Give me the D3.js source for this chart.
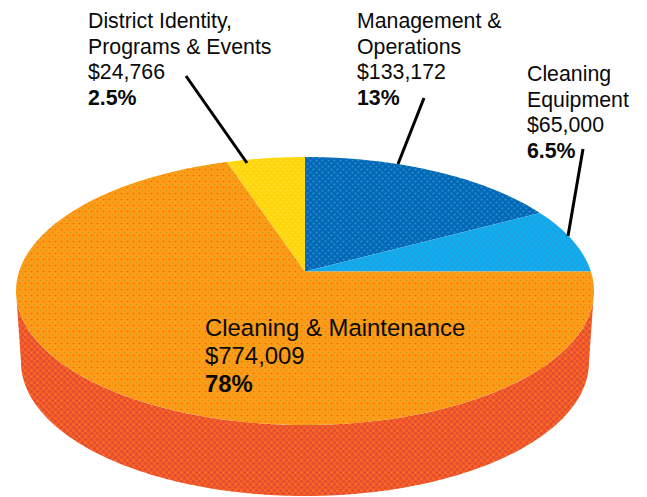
<!DOCTYPE html>
<html><head><meta charset="utf-8">
<script src="https://cdn.jsdelivr.net/npm/d3@7/dist/d3.min.js"></script>
<style>html,body{margin:0;background:#fff}svg{display:block}text{font-family:"Liberation Sans",Arial,sans-serif;fill:#0a0a0a}</style>
</head><body><div id="c"></div><script>
const categories=["Management & Operations","Cleaning Equipment","Cleaning & Maintenance","District Identity, Programs & Events"];
const shares=[13,6.5,78,2.5];
const amounts=["$133,172","$65,000","$774,009","$24,766"];
const percentLabels=["13%","6.5%","78%","2.5%"];
const labelLines=[["Management &","Operations"],["Cleaning","Equipment"],["Cleaning & Maintenance"],["District Identity,","Programs & Events"]];
const fills=["#0368b8","#10adef","#ff9b12","#ffd60a"];
const dots=["#2a8cc4","#2f96d4","#e0762c","#ffe23a"];

const W=647,H=497,svg=d3.select("#c").append("svg").attr("width",W).attr("height",H);
const cx=305,cy=291,rx=289,ry=134,apexX=305,apexY=271.5,depth=71,lowerRx=284;

// cumulative share -> on-screen angle (the source drawing is not proportional)
let cum=[0];shares.forEach(v=>cum.push(cum[cum.length-1]+v));
const angle=d3.scaleLinear().domain(cum).range([0,76,90,324.5,360].map(d=>d*Math.PI/180));

function rim(a){ // ray from the off-centre apex to the ellipse
  const dx=Math.sin(a),dy=-Math.cos(a),ox=apexX-cx,oy=apexY-cy;
  const A=dx*dx/(rx*rx)+dy*dy/(ry*ry),B=2*(ox*dx/(rx*rx)+oy*dy/(ry*ry)),C=ox*ox/(rx*rx)+oy*oy/(ry*ry)-1;
  const t=(-B+Math.sqrt(B*B-4*A*C))/(2*A);
  return [apexX+t*dx,apexY+t*dy];
}
const line=d3.line();

const defs=svg.append("defs");
defs.append("filter").attr("id","soft").attr("x","-5%").attr("y","-5%").attr("width","110%").attr("height","110%")
  .append("feGaussianBlur").attr("stdDeviation",0.45);
function pat(id,base,size,marks){
  const p=defs.append("pattern").attr("id",id).attr("patternUnits","userSpaceOnUse").attr("width",size).attr("height",size);
  p.append("rect").attr("width",size).attr("height",size).attr("fill",base);
  marks.forEach(m=>p.append("circle").attr("cx",m[0]).attr("cy",m[1]).attr("r",m[2]).attr("fill",m[3]));
}
fills.forEach((f,i)=>{
  pat("p"+i,f,6,i==2?[[1.5,1.5,.8,"#d86a2c"],[4.5,4.5,.8,"#bda02c"]]
    :[[1.5,1.5,1.1,dots[i]],[4.5,4.5,1.1,dots[i]]]);
});
pat("pw","#f65e26",6,[[1.5,1.5,1.2,"#d4483a"],[4.5,4.5,1.2,"#dc4638"],[1.5,4.5,.8,"#f48028"]]);

const pieG=svg.append("g").attr("filter","url(#soft)");

// side wall
const wall=[];
d3.range(0,181).forEach(d=>{const t=d*Math.PI/180;wall.push([cx+rx*Math.cos(t),cy+ry*Math.sin(t)]);});
d3.range(180,-1,-1).forEach(d=>{const t=d*Math.PI/180;wall.push([cx+lowerRx*Math.cos(t),cy+depth+ry*Math.sin(t)]);});
pieG.append("path").attr("d",line(wall)+"Z").attr("fill","url(#pw)");

// slices
const pie=d3.pie().sort(null).value(d=>d).startAngle(0).endAngle(2*Math.PI)(shares);
pieG.selectAll("path.slice").data(pie).join("path").attr("class","slice")
  .attr("fill",(d,i)=>`url(#p${i})`)
  .attr("d",(d,i)=>{
    const a0=angle(cum[i]),a1=angle(cum[i+1]),n=Math.ceil((a1-a0)*60);
    const pts=[[apexX,apexY]];
    d3.range(n+1).forEach(k=>pts.push(rim(a0+(a1-a0)*k/n)));
    return line(pts)+"Z";
  });

// leader lines
const leaders=[[[424,98],[398,164]],[[583,149],[568,236]],null,[[186,76],[247,163]]];
leaders.forEach(l=>{if(l)svg.append("path").attr("d",line(l)).attr("stroke","#000").attr("stroke-width",3).attr("fill","none");});

// labels
const labelPos=[{x:357,y:28,s:21.3,lh:25.5},{x:527,y:81,s:21.3,lh:25.5},{x:205,y:336,s:23.9,lh:28},{x:88,y:28,s:21.3,lh:25.5}];
categories.forEach((c,i)=>{
  const p=labelPos[i],t=svg.append("text").attr("x",p.x).attr("y",p.y).style("font-size",p.s+"px");
  const rows=labelLines[i].concat([amounts[i]]);
  rows.forEach((r,k)=>t.append("tspan").attr("x",p.x).attr("y",p.y+k*p.lh).text(r));
  t.append("tspan").attr("x",p.x).attr("y",p.y+rows.length*p.lh).style("font-weight","bold").text(percentLabels[i]);
});
</script></body></html>
